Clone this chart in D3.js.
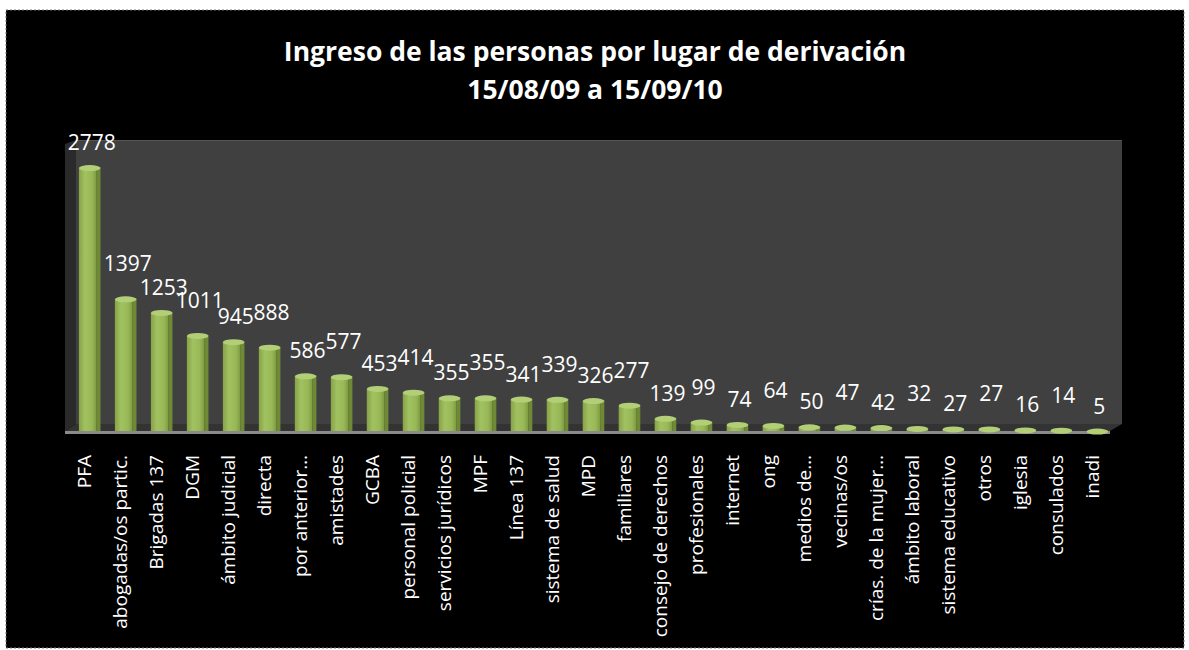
<!DOCTYPE html>
<html>
<head>
<meta charset="utf-8">
<script src="https://cdn.jsdelivr.net/npm/d3@7"></script>
<style>
  body { margin: 0; background: #fff; }
  svg { display: block; }
  text { font-family: "Open Sans", sans-serif; fill: #fff; }
</style>
</head>
<body>
<div id="chart"></div>
<script>
var categories = ["PFA", "abogadas/os partic.", "Brigadas 137", "DGM", "ámbito judicial",
    "directa", "por anterior…", "amistades", "GCBA", "personal policial",
    "servicios jurídicos", "MPF", "Línea 137", "sistema de salud", "MPD",
    "familiares", "consejo de derechos", "profesionales", "internet", "ong",
    "medios de…", "vecinas/os", "crías. de la mujer…", "ámbito laboral",
    "sistema educativo", "otros", "iglesia", "consulados", "inadi"];
var values = [2778, 1397, 1253, 1011, 945, 888, 586, 577, 453, 414,
    355, 355, 341, 339, 326, 277, 139, 99, 74, 64,
    50, 47, 42, 32, 27, 27, 16, 14, 5];
var titleLines = ["Ingreso de las personas por lugar de derivación", "15/08/09 a 15/09/10"];

var totalWidth = 1189,
    totalHeight = 650;

var wall = { left: 76, right: 1122, top: 140, floor: 424 },
    base = 431;

var data = categories.map(function(c, i) {
    return { cat: c, val: values[i] };
});

var xScale = d3.scaleBand()
    .domain(categories)
    .range([71, 1116])
    .paddingInner(0.4)
    .paddingOuter(0.22);

var yScale = d3.scaleLinear()
    .domain([0, 3000])
    .range([base - 1, 145]);

var svg = d3.select("#chart").append("svg")
    .attr("width", totalWidth)
    .attr("height", totalHeight);

var defs = svg.append("defs");
var grad = defs.append("linearGradient").attr("id", "barGrad");
grad.append("stop").attr("offset", "0%").attr("stop-color", "#86a346");
grad.append("stop").attr("offset", "35%").attr("stop-color", "#a2c262");
grad.append("stop").attr("offset", "75%").attr("stop-color", "#98b857");
grad.append("stop").attr("offset", "100%").attr("stop-color", "#7d9a40");

// black frame
svg.append("rect")
    .attr("x", 6).attr("y", 10)
    .attr("width", 1178).attr("height", 638)
    .attr("fill", "#000")
    .attr("stroke", "#777")
    .attr("stroke-dasharray", "2,2")
    .attr("stroke-width", 1);

// back wall
svg.append("rect")
    .attr("x", wall.left).attr("y", wall.top)
    .attr("width", wall.right - wall.left).attr("height", wall.floor - wall.top)
    .attr("fill", "#404040");
svg.append("line")
    .attr("x1", wall.left).attr("x2", wall.right)
    .attr("y1", wall.top + 0.5).attr("y2", wall.top + 0.5)
    .attr("stroke", "#555");

// side wall
svg.append("path")
    .attr("d", "M65," + (wall.top + 4) + "L" + wall.left + "," + wall.top +
        "L" + wall.left + "," + wall.floor + "L65," + base + "Z")
    .attr("fill", "#2a2a2a");

// floor
svg.append("path")
    .attr("d", "M" + wall.left + "," + wall.floor + "L" + wall.right + "," + wall.floor +
        "L1110," + base + "L65," + base + "Z")
    .attr("fill", "#333");

svg.append("rect")
    .attr("x", 65).attr("y", base)
    .attr("width", 1110 - 65).attr("height", 3)
    .attr("fill", "#8a8a8a");

// bars
var bw = xScale.bandwidth();
var bars = svg.append("g").selectAll("g.bar")
    .data(data)
    .enter().append("g")
    .attr("class", "bar");

bars.append("rect")
    .attr("x", function(d) { return xScale(d.cat) + bw - 4; })
    .attr("y", function(d) { return yScale(d.val) + 1; })
    .attr("width", 4)
    .attr("height", function(d) { return base - 1 - yScale(d.val); })
    .attr("fill", "#6e8a35");

bars.append("rect")
    .attr("x", function(d) { return xScale(d.cat); })
    .attr("y", function(d) { return yScale(d.val) + 2; })
    .attr("width", bw - 4)
    .attr("height", function(d) { return base - 2 - yScale(d.val); })
    .attr("fill", "url(#barGrad)");

bars.append("ellipse")
    .attr("cx", function(d) { return xScale(d.cat) + bw / 2; })
    .attr("cy", function(d) { return yScale(d.val) + 2; })
    .attr("rx", bw / 2)
    .attr("ry", 3)
    .attr("fill", "#b2cf78");

// value labels, odd ones nudged up a bit like the staggered originals
svg.append("g").selectAll("text.val")
    .data(data)
    .enter().append("text")
    .attr("class", "val")
    .attr("x", function(d) { return xScale(d.cat) + bw / 2 + 2; })
    .attr("y", function(d, i) { return yScale(d.val) - 16 - (i % 2 ? 10 : 0); })
    .attr("text-anchor", "middle")
    .style("font-size", "21px")
    .text(function(d) { return d.val; });

// category axis
var xAxis = d3.axisBottom(xScale).tickSize(0).tickPadding(0);
var gx = svg.append("g")
    .attr("transform", "translate(-5," + 455 + ")")
    .call(xAxis);
gx.select(".domain").remove();
gx.selectAll("text")
    .attr("transform", "rotate(-90)")
    .attr("x", 0)
    .attr("y", 0)
    .attr("dy", "0.35em")
    .attr("text-anchor", "end")
    .attr("fill", "#fff")
    .style("font-family", "'Open Sans', sans-serif")
    .style("font-size", "19px");

// title
svg.append("g").selectAll("text.title")
    .data(titleLines)
    .enter().append("text")
    .attr("class", "title")
    .attr("x", 595)
    .attr("y", function(d, i) { return 61 + i * 38; })
    .attr("text-anchor", "middle")
    .style("font-size", "26.5px")
    .style("font-weight", "700")
    .text(function(d) { return d; });
</script>
</body>
</html>
